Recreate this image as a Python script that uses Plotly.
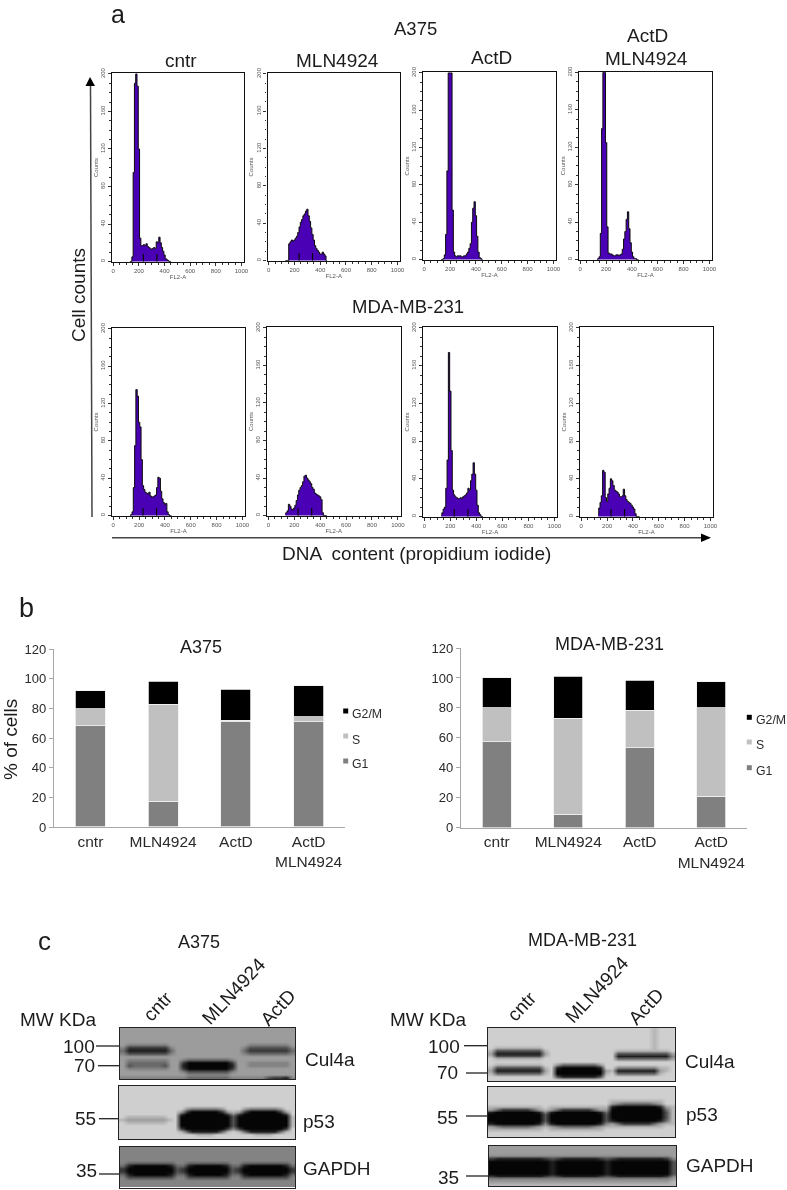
import plotly.graph_objects as go

W, H = 787, 1190
FONT = "Liberation Sans"

# ---------- panel a: DNA histograms ----------
FL2_BINS = [130,140,150,160,170,180,190,200,210,220,230,240,250,260,270,280,290,300,
            310,320,330,340,350,360,370,380,390,400,410,420,430,440,450]
A375_CNTR = [0,0,5,95,190,200,187,120,25,17,17,18,17,19,16,15,14,13,14,15,14,21,20,26,20,15,11,7,3,2,1,0,0]
A375_MLN = [0,0,0,18,20,22,21,22,24,26,30,36,41,44,48,50,53,55,48,42,35,28,22,16,13,11,9,7,7,9,7,5,0]
A375_ACTD = [0,0,1,5,27,95,200,200,200,53,8,4,3,4,4,4,3,3,4,4,6,8,12,17,40,55,62,47,25,8,2,1,0]
A375_BOTH = [0,1,3,28,140,200,200,125,35,7,6,6,5,4,4,5,5,4,5,6,11,22,30,43,51,33,18,8,3,1,1,0,0]
MDA_CNTR = [0,1,4,30,75,135,128,100,95,60,32,28,25,24,23,25,21,20,20,21,22,30,41,40,26,18,14,12,13,4,1,0,0]
MDA_MLN = [2,3,5,12,10,7,6,8,11,16,22,27,30,32,36,42,43,40,38,36,34,30,28,24,23,22,21,20,17,3,0,0,0]
MDA_ACTD = [1,4,8,10,30,60,174,133,70,28,23,21,20,19,19,20,19,21,22,23,25,30,28,38,45,57,45,28,12,4,2,0,0]
MDA_BOTH = [2,9,15,22,49,47,20,16,24,30,40,38,33,28,27,26,24,21,21,22,29,22,18,16,15,14,12,10,8,3,0,0,0]
HIST_SERIES = [A375_CNTR, A375_MLN, A375_ACTD, A375_BOTH, MDA_CNTR, MDA_MLN, MDA_ACTD, MDA_BOTH]
GATE_MARKS = [[235,340],[235,340],[],[],[230,335],[230,335],[230,335],[230,335]]
HIST_XTICKS = [0,200,400,600,800,1000]
HIST_YTICKS = [0,40,80,120,160,200]

# ---------- panel b: stacked bars ----------
CATS = ["cntr", "MLN4924", "ActD", "ActD<br>MLN4924"]
A375_G1 = [68.5, 17.5, 71, 71]
A375_S = [11.5, 65.5, 1, 3.5]
A375_G2M = [12, 15.5, 21, 21]
MDA_G1 = [57.5, 9, 53.5, 21]
MDA_S = [22.5, 64, 25, 59]
MDA_G2M = [20, 28, 20, 17.5]
BAR_TICKS = [0,20,40,60,80,100,120]

# ---------- panel c: blot densities (0 = black ... 9 = pale), one string per row ----------
BLOT_A_CUL = [
"6 6666666 66 6 6666666 666 6666666 6",
"6 6666666 66 6 6666666 666 6666666 6",
"6 6666666 66 6 6666666 666 6666666 6",
"6 6666666 66 6 6666666 666 6666666 6",
"6 6666666 66 6 6666666 666 6666666 6",
"6 5555555 66 6 6666666 666 5555555 6",
"5 2222222 56 6 6666666 665 3333333 5",
"4 1111111 46 6 6666666 664 2222222 4",
"5 3333333 56 6 6666666 665 4444444 5",
"6 6666666 66 6 6666666 666 6666666 6",
"6 5555555 66 5 4444444 566 6666666 6",
"6 4444444 66 2 0000000 266 5555555 6",
"6 3444443 66 1 0000000 166 5555555 6",
"6 5555555 66 2 0000000 266 6666666 6",
"6 6666666 66 5 3333333 566 6666666 6",
"6 6666666 66 6 5555555 666 6666666 6",
"5 5555555 55 5 4444444 555 5553221 5"]
BLOT_A_P53 = [
"8 8888888 88 888888888 8 888888888 8",
"8 8888888 88 888888888 8 888888888 8",
"8 8888888 88 888888888 8 888888888 8",
"8 8888888 88 888888888 8 888888888 8",
"8 8888888 88 888888888 8 888888888 8",
"8 8888888 88 888888888 8 888888888 8",
"8 8888888 88 888888888 8 888888888 8",
"8 8888888 88 865555568 8 865555568 8",
"8 8888888 88 620000026 7 620000026 8",
"8 8888888 88 200000002 5 200000002 8",
"8 7777777 88 000000000 3 000000000 7",
"7 6666666 78 000000000 3 000000000 7",
"8 7777777 88 000000000 3 000000000 7",
"8 8888888 88 000000000 3 000000000 7",
"8 8888888 88 200000002 5 200000002 8",
"8 8888888 88 741111147 8 741111147 8",
"8 8888888 88 888777888 8 888777888 8",
"8 8888888 88 888888888 8 888888888 8"]
BLOT_A_GAP = [
"5 55555555 5 5 5555555 5 5 55555555 5",
"5 55555555 5 5 5555555 5 5 55555555 5",
"5 55555555 5 5 5555555 5 5 55555555 5",
"5 55555555 5 5 5555555 5 5 55555555 5",
"5 55555555 5 5 5555555 5 5 55555555 5",
"5 44444444 5 5 4444444 5 5 44444444 5",
"4 10000001 4 4 1000001 4 4 10000001 4",
"2 00000000 3 2 0000000 3 2 00000000 2",
"2 00000000 3 2 0000000 3 2 00000000 2",
"4 10000001 4 4 1000001 4 4 10000001 4",
"5 33333333 5 5 3333333 5 5 33333333 5",
"5 55555555 5 5 5555555 5 5 55555555 5",
"5 55555555 5 5 5555555 5 5 55555555 5",
"5 55555555 5 5 5555555 5 5 55555555 5"]
BLOT_M_CUL = [
"8 88888888 88 88888888 88 888888788 8",
"8 88888888 88 88888888 88 888888788 8",
"8 88888888 88 88888888 88 888888788 8",
"8 88888888 88 88888888 88 888888788 8",
"8 88888888 88 88888888 88 888888788 8",
"8 88888888 88 88888888 88 888888788 8",
"8 77777777 88 88888888 88 888888788 8",
"7 33333333 78 88888888 88 777777777 8",
"6 11111111 68 88888888 88 333333333 6",
"7 33333333 78 88888888 88 111111111 5",
"8 77777777 88 88888888 88 444444444 6",
"8 88888888 88 88888888 88 888888888 8",
"8 77777777 88 64444446 88 888888888 8",
"7 33333333 78 10000001 88 555555577 8",
"6 11111111 68 00000000 67 111111167 8",
"7 44444444 78 00000000 78 444444478 8",
"8 88888888 88 31111113 88 888888888 8",
"8 88888888 88 88888888 88 888888888 8"]
BLOT_M_P53 = [
"888888888 8 888888888 8 888888888 88",
"888888888 8 888888888 8 888888888 88",
"888888888 8 888888888 8 888888888 88",
"888888888 8 888888888 8 888888888 88",
"888888888 8 888888888 8 777777777 88",
"888888888 8 888888888 8 654444456 88",
"777777777 8 777777777 7 100000001 67",
"642222246 7 642222246 6 000000000 47",
"100000001 5 100000001 4 000000000 37",
"000000000 3 000000000 3 000000000 37",
"000000000 3 000000000 3 000000000 37",
"000000000 3 000000000 3 100000001 47",
"100000001 5 100000001 5 642222246 77",
"654444456 7 654444456 7 777777777 88",
"777777777 8 777777777 8 888888888 88",
"888888888 8 888888888 8 888888888 88",
"888888888 8 888888888 8 888888888 88"]
BLOT_M_GAP = [
"6666666666 6 66666666 6 6666666666 6",
"6666666666 6 66666666 6 6666666666 6",
"6666666666 6 66666666 6 6666666666 6",
"5555555555 5 55555555 5 5555555555 6",
"2111111112 3 21111112 3 2111111112 5",
"0000000000 1 00000000 1 0000000000 3",
"0000000000 1 00000000 1 0000000000 3",
"0000000000 1 00000000 1 0000000000 3",
"0000000000 1 00000000 1 0000000000 3",
"0000000000 1 00000000 1 0000000000 3",
"2111111112 3 21111112 3 2111111112 5",
"5555555555 5 55555555 5 5555555555 6",
"6666666666 6 66666666 6 6666666666 7",
"7777777777 7 77777777 7 7777777777 7"]

# ---------- pixel helpers ----------
def px(x): return x / W
def py(y): return 1 - y / H

traces, annotations, shapes, layout_axes = [], [], [], {}
axis_no = [0]

def new_axes(box, xcfg, ycfg):
    axis_no[0] += 1
    n = axis_no[0]
    l, t, r, b = box
    layout_axes[f"xaxis{n}"] = dict(domain=[px(l), px(r)], anchor=f"y{n}", automargin=False, **xcfg)
    layout_axes[f"yaxis{n}"] = dict(domain=[py(b), py(t)], anchor=f"x{n}", automargin=False, **ycfg)
    return f"x{n}", f"y{n}"

def text(s, x, y, size=19, angle=0, xanchor="center", color="#1c1c1c"):
    annotations.append(dict(text=s, x=px(x), y=py(y), xref="paper", yref="paper", showarrow=False,
                            font=dict(family=FONT, size=size, color=color), textangle=angle,
                            xanchor=xanchor, yanchor="middle", borderpad=0))

def line(x0, y0, x1, y1, color="#222222", width=1.3):
    shapes.append(dict(type="line", xref="paper", yref="paper", x0=px(x0), y0=py(y0), x1=px(x1), y1=py(y1),
                       line=dict(color=color, width=width)))

def square(x, y, color, s=5):
    shapes.append(dict(type="rect", xref="paper", yref="paper", x0=px(x - s/2), x1=px(x + s/2),
                       y0=py(y + s/2), y1=py(y - s/2), fillcolor=color, line=dict(width=0)))

# ---------- histograms ----------
HIST_BOXES = [(112,73,244,262),(267.5,73,400,261),(423,72,556,260),(579,71.5,712,260),
              (112,328,245,516),(267,327,400.5,516),(423,327,557,517),(580,327,713,517)]
small = dict(family=FONT, size=6, color="#555555")
for box, series, gates in zip(HIST_BOXES, HIST_SERIES, GATE_MARKS):
    xa, ya = new_axes(
        box,
        dict(range=[-10, 1020], tickvals=HIST_XTICKS, ticks="outside", ticklen=3, tickcolor="#333333", tickwidth=1,
             minor=dict(dtick=50, ticks="outside", ticklen=1.5, tickcolor="#333333"),
             tickfont=small, showline=True, linecolor="#111111", linewidth=1.4, mirror=True, showgrid=False,
             zeroline=False, title=dict(text="FL2-A", font=small, standoff=0), ticklabelstandoff=0),
        dict(range=[-0.5, 201], tickvals=HIST_YTICKS, ticks="outside", ticklen=3, tickcolor="#333333", tickwidth=1,
             minor=dict(dtick=10, ticks="outside", ticklen=1.5, tickcolor="#333333"),
             tickfont=small, tickangle=-90, showline=True, linecolor="#111111", linewidth=1.4, mirror=True,
             showgrid=False, zeroline=False, title=dict(text="Counts", font=small, standoff=1)))
    traces.append(go.Scatter(x=FL2_BINS, y=series, mode="lines", line=dict(color="#0a0a0a", width=1, shape="hvh"),
                             fill="tozeroy", fillcolor="#4a00b4", xaxis=xa, yaxis=ya, showlegend=False))
    if gates:
        gx, gy = [], []
        for g in gates:
            gx += [g, g, None]
            gy += [0, 8, None]
        traces.append(go.Scatter(x=gx, y=gy, mode="lines", line=dict(color="#0a0a0a", width=1.2),
                                 xaxis=xa, yaxis=ya, showlegend=False))

text("a", 118, 14.5, 25)
text("A375", 415, 28, 18.5)
text("cntr", 180.7, 60)
text("MLN4924", 337, 60)
text("ActD", 491.7, 57)
text("ActD", 647, 35)
text("MLN4924", 646.7, 58)
text("MDA-MB-231", 407.5, 307, 18.5)
text("Cell counts", 78, 295, 19, angle=-90)
text("DNA  content (propidium iodide)", 416, 553, 19)
line(90.5, 86, 92, 517, color="#444444", width=1.5)
line(112, 537.7, 703, 537.7, color="#444444", width=1.5)
shapes.append(dict(type="path", xref="paper", yref="paper",
                   path=f"M {px(85.5)} {py(86)} L {px(90)} {py(77)} L {px(95)} {py(86)} Z",
                   fillcolor="#000000", line=dict(width=0)))
shapes.append(dict(type="path", xref="paper", yref="paper",
                   path=f"M {px(701)} {py(533.5)} L {px(711)} {py(537.7)} L {px(701)} {py(542)} Z",
                   fillcolor="#000000", line=dict(width=0)))

# ---------- stacked bars ----------
tick_font = dict(family=FONT, size=13, color="#2a2a2a")
def bar_panel(box, g1, s, g2m):
    xa, ya = new_axes(
        box,
        dict(type="category", categoryorder="array", categoryarray=CATS, showline=True, linecolor="#a8a8a8", linewidth=1.3,
             ticks="", tickfont=dict(family=FONT, size=15.5, color="#2a2a2a"), ticklabelstandoff=0,
             showgrid=False, zeroline=False),
        dict(range=[0, 120], tickvals=BAR_TICKS, showline=True, linecolor="#a8a8a8", linewidth=1.3,
             ticks="outside", ticklen=4, tickcolor="#a8a8a8", tickfont=tick_font, showgrid=False, zeroline=False))
    for name, vals, col in (("G1", g1, "#808080"), ("S", s, "#c0c0c0"), ("G2/M", g2m, "#000000")):
        traces.append(go.Bar(x=CATS, y=vals, name=name, marker=dict(color=col, line=dict(color="#f0f0f0", width=0.8)),
                             width=0.41, xaxis=xa, yaxis=ya, showlegend=False))

bar_panel((54, 649.3, 345, 827), A375_G1, A375_S, A375_G2M)
bar_panel((461, 648, 747, 827.7), MDA_G1, MDA_S, MDA_G2M)

text("b", 26.7, 608, 27)
text("A375", 200.7, 647, 18)
text("MDA-MB-231", 609, 644, 18)
text("% of cells", 10, 740, 19, angle=-90)
for (name, col), ys, yt in zip((("G2/M", "#000000"), ("S", "#c0c0c0"), ("G1", "#808080")), (711, 736, 761), (714, 739.7, 764)):
    square(345.7, ys, col)
    text(name, 351, yt, 12.3, xanchor="left", color="#2a2a2a")
for (name, col), ys, yt in zip((("G2/M", "#000000"), ("S", "#c0c0c0"), ("G1", "#808080")), (717.3, 742, 767.7), (720, 745, 770.7)):
    square(749.3, ys, col)
    text(name, 755, yt, 12.3, xanchor="left", color="#2a2a2a")

# ---------- western blots ----------
def blot(box, rows):
    rows = [r.replace(" ", "") for r in rows]
    width = max(len(r) for r in rows)
    z = [[int(c) for c in r.ljust(width, r[-1])] for r in rows]
    xa, ya = new_axes(
        box,
        dict(showticklabels=False, ticks="", showgrid=False, zeroline=False, showline=True, linecolor="#222222",
             linewidth=1.3, mirror=True, range=[-0.5, width - 0.5]),
        dict(showticklabels=False, ticks="", showgrid=False, zeroline=False, showline=True, linecolor="#222222",
             linewidth=1.3, mirror=True, range=[len(rows) - 0.5, -0.5]))
    traces.append(go.Heatmap(z=z, zmin=0, zmax=9, zsmooth="best", showscale=False, hoverinfo="skip",
                             colorscale=[[0, "#050505"], [1, "#e8e8e8"]], xaxis=xa, yaxis=ya))

blot((120, 1028, 295, 1079), BLOT_A_CUL)
blot((119, 1086, 295, 1139), BLOT_A_P53)
blot((120, 1147, 295, 1187.5), BLOT_A_GAP)
blot((488, 1028, 675, 1081), BLOT_M_CUL)
blot((488, 1087, 675, 1137), BLOT_M_P53)
blot((489, 1146, 676, 1186), BLOT_M_GAP)

text("c", 44, 941, 26)
text("A375", 199, 941.7, 18)
text("MDA-MB-231", 582, 940, 18)
text("MW KDa", 57.7, 1019)
text("MW KDa", 427.7, 1019)
for s, x, y in (("100", 79, 1046), ("70", 84, 1065.7), ("55", 85.7, 1118), ("35", 86, 1170),
                ("100", 444, 1046), ("70", 447.7, 1072), ("55", 447.7, 1117), ("35", 448, 1177)):
    text(s, x, y)
for x0, x1, y in ((96, 119, 1046), (98, 119, 1065.7), (99, 119, 1118.7), (99, 120, 1174),
                  (464, 488, 1045.7), (466, 488, 1073), (466, 488, 1116), (466, 488, 1176)):
    line(x0, y, x1, y)
for s, x, y in (("Cul4a", 329.7, 1059), ("p53", 319, 1121), ("GAPDH", 336.7, 1168),
                ("Cul4a", 710, 1061.7), ("p53", 701.7, 1114), ("GAPDH", 720, 1165)):
    text(s, x, y)
for s, x, y in (("cntr", 157.7, 1006.7), ("MLN4924", 233, 991), ("ActD", 277.7, 1007),
                ("cntr", 521.7, 1006.7), ("MLN4924", 596.7, 989), ("ActD", 645.7, 1006)):
    text(s, x, y, angle=-47)

fig = go.Figure(traces)
fig.update_layout(width=W, height=H, margin=dict(l=0, r=0, t=0, b=0), barmode="stack", bargap=0.59,
                  paper_bgcolor="#ffffff", plot_bgcolor="#ffffff", showlegend=False,
                  annotations=annotations, shapes=shapes, font=dict(family=FONT), **layout_axes)
fig.write_html("out.html", config=dict(displayModeBar=False),
               post_script="document.body.style.margin='0';"
                           "document.querySelector('.plotly-graph-div').style.filter='blur(0.45px)';")
